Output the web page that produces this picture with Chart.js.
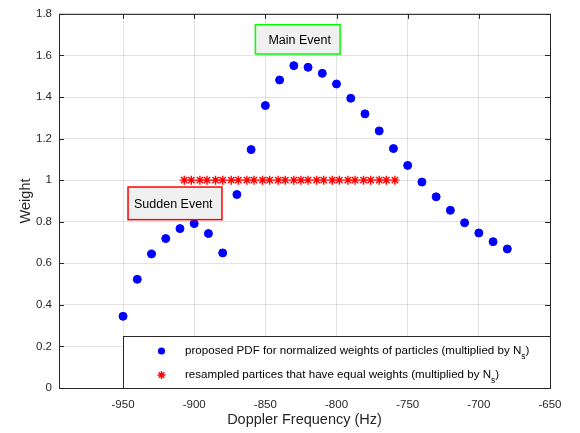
<!DOCTYPE html>
<html>
<head>
<meta charset="utf-8">
<script src="https://cdn.jsdelivr.net/npm/chart.js@4/dist/chart.umd.min.js"></script>
<style>
  html, body { margin: 0; padding: 0; background: #fff; }
  #wrap { width: 580px; height: 433px; }
</style>
</head>
<body>
<div id="wrap"><canvas id="chart" width="580" height="433"></canvas></div>
<script>
/* ─── data ────────────────────────────────────────────────── */

const pdfFreq = [-950, -940, -930, -920, -910, -900, -890, -880, -870, -860,
                 -850, -840, -830, -820, -810, -800, -790, -780, -770, -760,
                 -750, -740, -730, -720, -710, -700, -690, -680];
const pdfWeight = [0.345, 0.523, 0.645, 0.719, 0.767, 0.791, 0.743, 0.650, 0.931, 1.147,
                   1.359, 1.482, 1.551, 1.543, 1.514, 1.463, 1.394, 1.319, 1.237, 1.152,
                   1.071, 0.991, 0.920, 0.855, 0.795, 0.746, 0.704, 0.669];

const resampledFreq = [-907, -902, -896, -891, -885, -880, -874, -869, -863, -858,
                       -852, -847, -841, -836, -830, -825, -820, -814, -809, -803,
                       -798, -792, -787, -781, -776, -770, -765, -759];
const resampledWeight = [1, 1, 1, 1, 1, 1, 1, 1, 1, 1,
                         1, 1, 1, 1, 1, 1, 1, 1, 1, 1,
                         1, 1, 1, 1, 1, 1, 1, 1];

const xTicks = [-950, -900, -850, -800, -750, -700, -650];
const yTicks = [0, 0.2, 0.4, 0.6, 0.8, 1, 1.2, 1.4, 1.6, 1.8];

const legendLabels = [
  ['proposed PDF for normalized weights of particles (multiplied by N', 's', ')'],
  ['resampled partices that have equal weights (multiplied by N', 's', ')'],
];

/* ─── styling ─────────────────────────────────────────────── */

const FONT = 'Liberation Sans, Arial, sans-serif';
const AXIS_COLOR = '#262626';
const GRID_COLOR = 'rgba(38, 38, 38, 0.13)';
const BLUE = '#0000ff';
const RED = '#ff0000';

const toPoints = (xs, ys) => xs.map((x, i) => ({ x, y: ys[i] }));

// MATLAB-style box with inward ticks on all four sides
const boxPlugin = {
  id: 'box',
  afterDraw(chart) {
    const { ctx, chartArea: a, scales: { x, y } } = chart;
    ctx.save();
    ctx.strokeStyle = AXIS_COLOR;
    ctx.lineWidth = 1;
    ctx.strokeRect(a.left + 0.5, a.top + 0.5, a.right - a.left, a.bottom - a.top);
    ctx.beginPath();
    xTicks.forEach(v => {
      const px = Math.round(x.getPixelForValue(v)) + 0.5;
      ctx.moveTo(px, a.bottom); ctx.lineTo(px, a.bottom - 5);
      ctx.moveTo(px, a.top); ctx.lineTo(px, a.top + 5);
    });
    yTicks.forEach(v => {
      const py = Math.round(y.getPixelForValue(v)) + 0.5;
      ctx.moveTo(a.left, py); ctx.lineTo(a.left + 5, py);
      ctx.moveTo(a.right, py); ctx.lineTo(a.right - 5, py);
    });
    ctx.stroke();
    ctx.restore();
  }
};

// text boxes "Main Event" / "Sudden Event", anchored in data space
const notes = [
  { text: 'Main Event', x0: -857, x1: -797.5, y0: 1.748, y1: 1.607, color: '#00ff00', pad: 13 },
  { text: 'Sudden Event', x0: -946.5, x1: -880.5, y0: 0.967, y1: 0.810, color: RED, pad: 6 },
];

const notesPlugin = {
  id: 'notes',
  afterDatasetsDraw(chart) {
    const { ctx, scales: { x, y } } = chart;
    ctx.save();
    notes.forEach(n => {
      const l = x.getPixelForValue(n.x0), r = x.getPixelForValue(n.x1);
      const t = y.getPixelForValue(n.y0), b = y.getPixelForValue(n.y1);
      ctx.fillStyle = '#f0f0f0';
      ctx.fillRect(l, t, r - l, b - t);
      ctx.strokeStyle = n.color;
      ctx.lineWidth = 1.5;
      ctx.strokeRect(l, t, r - l, b - t);
      ctx.fillStyle = '#000';
      ctx.font = '12.5px ' + FONT;
      ctx.textBaseline = 'middle';
      ctx.textAlign = 'left';
      ctx.fillText(n.text, l + n.pad, (t + b) / 2 + 1);
    });
    ctx.restore();
  }
};

// legend box in the lower right corner of the axes
const legendPlugin = {
  id: 'legendBox',
  afterDraw(chart) {
    const { ctx, chartArea: a } = chart;
    const l = a.left + 64, t = a.bottom - 52;
    ctx.save();
    ctx.fillStyle = '#fff';
    ctx.fillRect(l, t, a.right - l, a.bottom - t);
    ctx.strokeStyle = AXIS_COLOR;
    ctx.lineWidth = 1;
    ctx.strokeRect(l + 0.5, t + 0.5, a.right - l, a.bottom - t);

    const rows = [t + 15, t + 39];
    // marker samples
    ctx.fillStyle = BLUE;
    ctx.beginPath();
    ctx.arc(l + 38.5, rows[0], 3.6, 0, Math.PI * 2);
    ctx.fill();
    ctx.strokeStyle = RED;
    ctx.lineWidth = 1.4;
    ctx.beginPath();
    const cx = l + 38.5, cy = rows[1], s = 4;
    ctx.moveTo(cx - s, cy); ctx.lineTo(cx + s, cy);
    ctx.moveTo(cx, cy - s); ctx.lineTo(cx, cy + s);
    ctx.moveTo(cx - s * 0.7, cy - s * 0.7); ctx.lineTo(cx + s * 0.7, cy + s * 0.7);
    ctx.moveTo(cx - s * 0.7, cy + s * 0.7); ctx.lineTo(cx + s * 0.7, cy - s * 0.7);
    ctx.stroke();

    ctx.fillStyle = '#000';
    ctx.textBaseline = 'middle';
    ctx.textAlign = 'left';
    legendLabels.forEach(([main, sub, tail], i) => {
      let tx = l + 62;
      ctx.font = '11.6px ' + FONT;
      ctx.fillText(main, tx, rows[i]);
      tx += ctx.measureText(main).width;
      ctx.font = '8.5px ' + FONT;
      ctx.fillText(sub, tx, rows[i] + 6);
      tx += ctx.measureText(sub).width;
      ctx.font = '11.6px ' + FONT;
      ctx.fillText(tail, tx, rows[i]);
    });
    ctx.restore();
  }
};

new Chart(document.getElementById('chart'), {
  type: 'scatter',
  data: {
    datasets: [
      {
        label: 'proposed PDF',
        data: toPoints(pdfFreq, pdfWeight),
        pointStyle: 'circle',
        pointRadius: 4,
        pointBackgroundColor: BLUE,
        pointBorderColor: BLUE,
        pointBorderWidth: 1,
      },
      {
        label: 'resampled',
        data: toPoints(resampledFreq, resampledWeight),
        pointStyle: 'star',
        pointRadius: 4.5,
        pointBackgroundColor: RED,
        pointBorderColor: RED,
        pointBorderWidth: 1.4,
      },
    ],
  },
  options: {
    responsive: false,
    animation: false,
    events: [],
    layout: { padding: { top: 13, right: 30, left: 0, bottom: 0 } },
    plugins: {
      legend: { display: false },
      tooltip: { enabled: false },
    },
    scales: {
      x: {
        type: 'linear',
        min: -995,
        max: -650,
        afterBuildTicks(scale) {
          scale.ticks = xTicks.map(v => ({ value: v }));
        },
        afterFit(scale) { scale.height = 45; },
        grid: { color: GRID_COLOR, drawTicks: false },
        border: { display: false },
        ticks: {
          padding: 10,
          color: AXIS_COLOR,
          font: { family: FONT, size: 11.5 },
          maxRotation: 0,
          callback: v => String(v),
        },
        title: {
          display: true,
          text: 'Doppler Frequency (Hz)',
          color: AXIS_COLOR,
          font: { family: FONT, size: 14.5 },
          padding: { top: 0, bottom: 4 },
        },
      },
      y: {
        type: 'linear',
        min: 0,
        max: 1.8,
        afterBuildTicks(scale) {
          scale.ticks = yTicks.map(v => ({ value: v }));
        },
        afterFit(scale) { scale.width = 59; },
        grid: { color: GRID_COLOR, drawTicks: false },
        border: { display: false },
        ticks: {
          padding: 7,
          color: AXIS_COLOR,
          font: { family: FONT, size: 11.5 },
          callback: v => String(Math.round(v * 10) / 10),
        },
        title: {
          display: true,
          text: 'Weight',
          color: AXIS_COLOR,
          font: { family: FONT, size: 14.5 },
          padding: { top: 17, bottom: 0 },
        },
      },
    },
  },
  plugins: [boxPlugin, notesPlugin, legendPlugin],
});
</script>
</body>
</html>
